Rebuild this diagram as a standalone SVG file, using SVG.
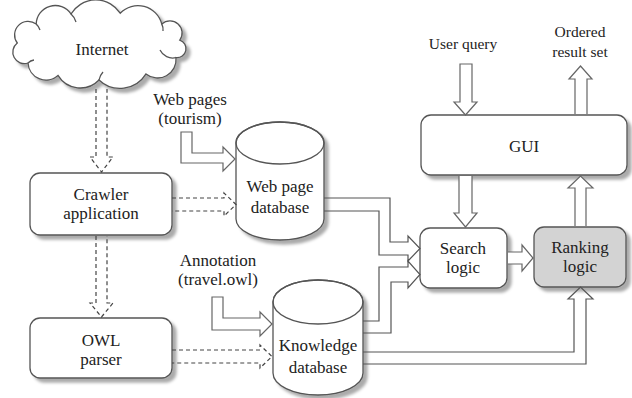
<svg xmlns="http://www.w3.org/2000/svg" width="632" height="398" viewBox="0 0 632 398" font-family="'Liberation Serif', 'DejaVu Serif', serif">
<defs>
<filter id="sh" x="-15%" y="-15%" width="140%" height="140%">
<feGaussianBlur in="SourceAlpha" stdDeviation="1.6"/>
<feOffset dx="4" dy="4" result="b"/>
<feFlood flood-color="#000" flood-opacity="0.33"/>
<feComposite in2="b" operator="in"/>
<feMerge><feMergeNode/><feMergeNode in="SourceGraphic"/></feMerge>
</filter>
</defs>
<style>
.box{fill:#fff;stroke:#555;stroke-width:1.3}
.gray{fill:#d3d3d3}
.ink{fill:none;stroke:#555;stroke-width:1.3}
.t{font-family:'Liberation Serif','DejaVu Serif',serif;font-size:17px;fill:#222;text-anchor:middle}
.s{font-size:15.5px}
.arr{fill:#fff;stroke:#666;stroke-width:1.2}
.line{fill:none;stroke:#555;stroke-width:1.2}
.dash{fill:none;stroke:#444;stroke-width:1.2;stroke-dasharray:4 3}
</style>
<rect width="632" height="398" fill="#fff"/>

<g id="internet">
<path class="box" filter="url(#sh)" d="M28,63 A11.5,11.5 0 0 1 17.3,43 A13.5,13.5 0 0 1 36.2,24.1 A19,19 0 0 1 71,14 A29,29 0 0 1 120.2,13.2 A24.6,24.6 0 0 1 161.8,24.1 A12.1,12.1 0 0 1 179.8,40.1 A9,9 0 0 1 176,57.6 A18.5,18.5 0 0 1 146,73.9 A30.5,30.5 0 0 1 99,80 A26,26 0 0 1 58,75.4 A18,18 0 0 1 28,63 Z"/>
<path class="ink" d="M36.2,24.1 A14,14 0 0 1 40,30 M71,14 A16,16 0 0 1 76,22 M161.8,24.1 A12,12 0 0 1 163,31 M176,57.6 A14,14 0 0 1 160,50 M99,80 A16,16 0 0 1 103,72 M28,63 A10,10 0 0 1 34,60"/>
<text class="t" x="102" y="55" font-size="18">Internet</text>
</g>

<g id="crawler">
<rect class="box" filter="url(#sh)" x="30" y="173" width="142" height="62" rx="10"/>
<text class="t" x="101" y="199.5">Crawler</text>
<text class="t" x="101" y="218.5">application</text>
</g>

<g id="owl-parser">
<rect class="box" filter="url(#sh)" x="30" y="318" width="142" height="60" rx="10"/>
<text class="t" x="101" y="345.5">OWL</text>
<text class="t" x="101" y="364.5">parser</text>
</g>

<g id="webpage-db">
<path class="box" filter="url(#sh)" d="M236,143 V219 A44,21 0 0 0 324,219 V143 A44,21 0 0 0 236,143 Z"/>
<ellipse class="ink" cx="280" cy="143" rx="44" ry="21"/>
<text class="t" x="280" y="192">Web page</text>
<text class="t" x="280" y="213">database</text>
</g>

<g id="knowledge-db">
<path class="box" filter="url(#sh)" d="M273,302 V373 A45,22 0 0 0 363,373 V302 A45,22 0 0 0 273,302 Z"/>
<ellipse class="ink" cx="318" cy="302" rx="45" ry="22"/>
<text class="t" x="318" y="351">Knowledge</text>
<text class="t" x="318" y="373">database</text>
</g>

<g id="gui">
<rect class="box" filter="url(#sh)" x="421" y="115" width="206" height="60" rx="10"/>
<text class="t" x="524" y="152">GUI</text>
</g>

<g id="search-logic">
<rect class="box" filter="url(#sh)" x="420" y="228" width="87" height="60" rx="10"/>
<text class="t" x="463" y="253.5">Search</text>
<text class="t" x="463" y="272.5">logic</text>
</g>

<g id="ranking-logic">
<rect class="box gray" filter="url(#sh)" x="534" y="227" width="92" height="60" rx="10"/>
<text class="t" x="580" y="253">Ranking</text>
<text class="t" x="580" y="272">logic</text>
</g>

<g id="labels">
<text class="t" x="190" y="105">Web pages</text>
<text class="t" x="190" y="124">(tourism)</text>
<text class="t" x="218" y="266">Annotation</text>
<text class="t" x="218" y="285">(travel.owl)</text>
<text class="t s" x="463" y="49">User query</text>
<text class="t s" x="580" y="37">Ordered</text>
<text class="t s" x="580" y="57">result set</text>
</g>

<g id="connectors">
<path class="dash" d="M96,89 V157 H90 L101.5,172 L113,157 H107 V89"/>
<path class="dash" d="M96,236 V303 H90 L101.5,317 L113,303 H107 V236"/>
<path class="dash" d="M172,198 H224 V193 L236,204.5 L224,216 V211 H172"/>
<path class="dash" d="M172,350 H260 V345 L272,356.5 L260,368 V363 H172"/>
<path class="arr" d="M181,132 H192 V153 H223 V147 L235,159 L223,171 V163 H181 Z"/>
<path class="arr" d="M212,297 H223 V318 H260 V312 L272,324 L260,336 V330 H212 Z"/>
<path class="line" d="M324,198 H390 V242 H408 V236 L420,248.5 L408,261 V255 H379 V211 H324"/>
<path class="line" d="M363,321 H379 V267 H408 V261 L420,274.5 L408,288 V282 H391 V333 H363"/>
<path class="line" d="M363,352 H574 V299 H568 L580.5,287 L593,299 H586 V364 H363"/>
<path class="arr" d="M459,176 V213 H454 L465.5,227 L477,213 H472 V176"/>
<path class="arr" d="M508,252 H522 V245 L533,258 L522,271 V264 H508"/>
<path class="arr" d="M575,226 V188 H568 L580.5,176 L593,188 H586 V226"/>
<path class="arr" d="M460,64 H472 V102 H477 L465.5,115 L454,102 H460 Z"/>
<path class="arr" d="M575,114 V79 H569 L580.5,66 L592,79 H587 V114"/>
</g>
</svg>
